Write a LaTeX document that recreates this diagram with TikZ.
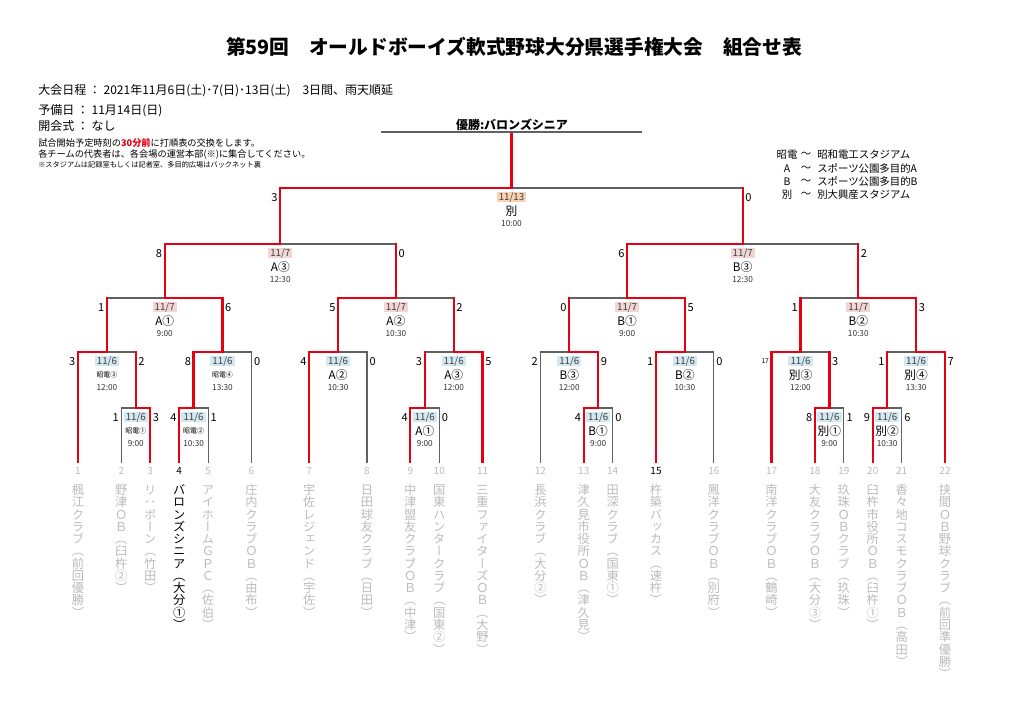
\documentclass[tikz,border=0pt]{standalone}
\usepackage{fontspec}
\setmainfont{Noto Sans CJK JP}
\newfontfamily\vfont[RawFeature=+vert]{Noto Sans CJK JP}
\definecolor{wred}{HTML}{E50012}
\definecolor{lgray}{HTML}{606060}
\definecolor{tgray}{HTML}{BBBBBB}
\definecolor{c6}{HTML}{D3E8F0}
\definecolor{c7}{HTML}{F2D6D6}
\definecolor{c13}{HTML}{F8D2B2}
\pgfdeclarelayer{layg}
\pgfdeclarelayer{layr}
\pgfsetlayers{layg,layr,main}
\ExplSyntaxOn
\NewDocumentCommand\vt{m}{
  \tl_set:Nx \l_tmpa_tl {#1}
  \vbox{\baselineskip=9.2pt\lineskiplimit=-30pt\lineskip=0pt
    \hbox{}
    \tl_map_inline:Nn \l_tmpa_tl {\hbox to 10pt{\hss ##1\hss}}
  }
}
\ExplSyntaxOff
\newcommand\sv[1]{\fontsize{5.2pt}{6pt}\selectfont #1}
\newcommand\seg[3]{\begin{pgfonlayer}{lay#1}\draw[line#1] (#2) -- (#3);\end{pgfonlayer}}
\newcommand\sides[7]{%
  \coordinate (#1L) at (#2 |- #1);
  \coordinate (#1R) at (#3 |- #1);
  \seg{#4}{#2}{#1L}\seg{#5}{#1L}{#1}%
  \seg{#6}{#3}{#1R}\seg{#7}{#1R}{#1}}
\newcommand\labels[7]{%
  \node[score, anchor=east] (#1s1) at ([xshift=-1.8pt,yshift=-6.9pt]#1L) {#2};
  \node[score, anchor=west] (#1s2) at ([xshift=1.8pt,yshift=-6.9pt]#1R) {#3};
  \node[datebox, fill=#4] (#1d) at ([yshift=-6.9pt]#1) {#5};
  \node[venue] (#1v) at ([yshift=-17pt]#1) {#6};
  \node[timel] (#1t) at ([yshift=-27pt]#1) {#7};}
\tikzset{
 lineg/.style={draw=lgray, line width=0.8pt, line cap=rect},
 liner/.style={draw=wred, line width=1.7pt, line cap=rect},
 score/.style={inner sep=0pt, font=\fontsize{8.3pt}{9pt}\selectfont},
 datebox/.style={inner xsep=1.6pt, inner ysep=0.7pt, text height=5.5pt, text depth=0.9pt, font=\fontsize{7.3pt}{8pt}\selectfont, text=black!75},
 venue/.style={inner sep=0pt, font=\fontsize{8.8pt}{9pt}\selectfont},
 timel/.style={inner sep=0pt, font=\fontsize{6.2pt}{7pt}\selectfont, text=black!80},
 tnum/.style={inner sep=0pt, font=\fontsize{7.5pt}{8pt}\selectfont, text=tgray},
 tname/.style={inner sep=0pt, anchor=north, text=tgray, font=\vfont\fontsize{9.2pt}{9.2pt}\selectfont},
 info/.style={inner sep=0pt, anchor=west, font=\fontsize{9pt}{10pt}\selectfont},
 note/.style={inner sep=0pt, anchor=west, font=\fontsize{6.9pt}{8pt}\selectfont},
 leg/.style={inner sep=0pt, font=\fontsize{7.8pt}{9pt}\selectfont},
}
\begin{document}
\begin{tikzpicture}[x=0.75pt,y=-0.75pt]
\useasboundingbox (0,0) rectangle (1024,724);
% title and header
\node[font=\bfseries\fontsize{14.8pt}{16pt}\selectfont] (title) at (514,47) {第59回　オールドボーイズ軟式野球大分県選手権大会　組合せ表};
\node[info] (i1) at (38,91) {大会日程\ ：\ 2021年11月6日(土)･7(日)･13日(土)　3日間、雨天順延};
\node[info] (i2) at (38,111) {予備日\ ：\ 11月14日(日)};
\node[info] (i3) at (38,126) {開会式\ ：\ なし};
\node[note] (i4) at (38,143) {試合開始予定時刻の{\color{wred}\bfseries 30分前}に打順表の交換をします。};
\node[note] (i5) at (38,155) {各チームの代表者は、各会場の運営本部(※)に集合してください。};
\node[note, font=\fontsize{5.4pt}{6pt}\selectfont] (i6) at (38,165) {※スタジアムは記録室もしくは記者室、多目的広場はバックネット裏};
% legend
\foreach \k/\t/\yy [count=\i] in {昭電/昭和電工スタジアム/155, A/スポーツ公園多目的A/169, B/スポーツ公園多目的B/182, 別/別大興産スタジアム/195}{
  \node[leg] (lk\i) at (787,\yy) {\k};
  \node[leg] (lt\i) at (806,\yy) {～};
  \node[leg, anchor=west] (lx\i) at (817,\yy) {\t};
}
% winner
\coordinate (wl) at (382,132);
\coordinate (wr) at (641,132);
\draw[lineg] (wl) -- (wr);
\node[inner sep=0pt, font=\bfseries\fontsize{9pt}{10pt}\selectfont] (win) at (512,125) {優勝:バロンズシニア};
% leaves
\foreach \i/\x in {1/78,2/121.35,3/150.25,4/179.15,5/208.05,6/251.4,7/309.2,8/367,9/410.35,10/439.25,11/482.6,12/540.4,13/583.75,14/612.65,15/656,16/713.8,17/771.6,18/814.95,19/843.85,20/872.75,21/901.65,22/945}{
  \coordinate (t\i) at (\x,462);
}
% matches
\coordinate (S1) at (135.8,408);
\coordinate (S2) at (193.6,408);
\coordinate (S3) at (106.9,352);
\coordinate (S4) at (222.5,352);
\coordinate (QA1) at (164.7,298);
\coordinate (A2a) at (338.1,352);
\coordinate (A1a) at (424.8,408);
\coordinate (A3a) at (453.7,352);
\coordinate (QA2) at (395.9,298);
\coordinate (SA) at (280.3,244);
\coordinate (B1a) at (598.2,408);
\coordinate (B3a) at (569.3,352);
\coordinate (B2a) at (684.9,352);
\coordinate (QB1) at (627.1,298);
\coordinate (E1) at (829.4,408);
\coordinate (E3) at (800.5,352);
\coordinate (E2) at (887.2,408);
\coordinate (E4) at (916.1,352);
\coordinate (QB2) at (858.3,298);
\coordinate (SB) at (742.7,244);
\coordinate (F) at (511.5,188);
\coordinate (Ftop) at (F |- wl);
% connectors
\sides{S1}{t2}{t3}{g}{g}{r}{r}
\sides{S2}{t4}{t5}{r}{r}{g}{g}
\sides{S3}{t1}{S1}{r}{r}{r}{g}
\sides{S4}{S2}{t6}{r}{r}{g}{g}
\sides{QA1}{S3}{S4}{r}{g}{r}{r}
\sides{A2a}{t7}{t8}{r}{r}{g}{g}
\sides{A1a}{t9}{t10}{r}{r}{g}{g}
\sides{A3a}{A1a}{t11}{r}{g}{r}{r}
\sides{QA2}{A2a}{A3a}{r}{r}{r}{g}
\sides{SA}{QA1}{QA2}{r}{r}{r}{g}
\sides{B1a}{t13}{t14}{r}{r}{g}{g}
\sides{B3a}{t12}{B1a}{g}{g}{r}{r}
\sides{B2a}{t15}{t16}{r}{r}{g}{g}
\sides{QB1}{B3a}{B2a}{r}{g}{r}{r}
\sides{E1}{t18}{t19}{r}{r}{g}{g}
\sides{E3}{t17}{E1}{r}{r}{r}{g}
\sides{E2}{t20}{t21}{r}{r}{g}{g}
\sides{E4}{E2}{t22}{r}{g}{r}{r}
\sides{QB2}{E3}{E4}{r}{g}{r}{r}
\sides{SB}{QB1}{QB2}{r}{r}{r}{g}
\sides{F}{SA}{SB}{r}{r}{r}{g}
\seg{r}{F}{Ftop}
% labels
\labels{S1}{1}{3}{c6}{11/6}{\sv{昭電①}}{9:00}
\labels{S2}{4}{1}{c6}{11/6}{\sv{昭電②}}{10:30}
\labels{S3}{3}{2}{c6}{11/6}{\sv{昭電③}}{12:00}
\labels{S4}{8}{0}{c6}{11/6}{\sv{昭電④}}{13:30}
\labels{QA1}{1}{6}{c7}{11/7}{A①}{9:00}
\labels{A2a}{4}{0}{c6}{11/6}{A②}{10:30}
\labels{A1a}{4}{0}{c6}{11/6}{A①}{9:00}
\labels{A3a}{3}{5}{c6}{11/6}{A③}{12:00}
\labels{QA2}{5}{2}{c7}{11/7}{A②}{10:30}
\labels{SA}{8}{0}{c7}{11/7}{A③}{12:30}
\labels{B1a}{4}{0}{c6}{11/6}{B①}{9:00}
\labels{B3a}{2}{9}{c6}{11/6}{B③}{12:00}
\labels{B2a}{1}{0}{c6}{11/6}{B②}{10:30}
\labels{QB1}{0}{5}{c7}{11/7}{B①}{9:00}
\labels{E1}{8}{1}{c6}{11/6}{別①}{9:00}
\labels{E3}{\fontsize{5pt}{6pt}\selectfont 17}{3}{c6}{11/6}{別③}{12:00}
\labels{E2}{9}{6}{c6}{11/6}{別②}{10:30}
\labels{E4}{1}{7}{c6}{11/6}{別④}{13:30}
\labels{QB2}{1}{3}{c7}{11/7}{B②}{10:30}
\labels{SB}{6}{2}{c7}{11/7}{B③}{12:30}
\labels{F}{3}{0}{c13}{11/13}{別}{10:00}
% team numbers and names
\foreach \i/\nm in {1/楓江クラブ（前回優勝）,2/野津ＯＢ（臼杵②）,3/リ：ボーン（竹田）,5/アイホームＧＰＣ（佐伯）,6/庄内クラブＯＢ（由布）,7/宇佐レジェンド（宇佐）,8/日田球友クラブ（日田）,9/中津盟友クラブＯＢ（中津）,10/国東ハンタークラブ（国東②）,11/三重ファイターズＯＢ（大野）,12/長浜クラブ（大分②）,13/津久見市役所ＯＢ（津久見）,14/田深クラブ（国東①）,16/鳳洋クラブＯＢ（別府）,17/南洋クラブＯＢ（鶴崎）,18/大友クラブＯＢ（大分③）,19/玖珠ＯＢクラブ（玖珠）,20/臼杵市役所ＯＢ（臼杵①）,21/香々地コスモクラブＯＢ（高田）,22/挟間ＯＢ野球クラブ（前回準優勝）}{
  \node[tnum] (num\i) at ([yshift=-6.75pt]t\i) {\i};
  \node[tname] (n\i) at ([yshift=-15pt]t\i) {\vt{\nm}};
}
\node[tnum, text=black] (num4) at ([yshift=-6.75pt]t4) {4};
\node[tname, text=black] (n4) at ([yshift=-15pt]t4) {\vt{バロンズシニア（大分①）}};
\node[tnum, text=black] (num15) at ([yshift=-6.75pt]t15) {15};
\node[tname] (n15) at ([yshift=-15pt]t15) {\vt{杵築バッカス（速杵）}};
\end{tikzpicture}
\end{document}
